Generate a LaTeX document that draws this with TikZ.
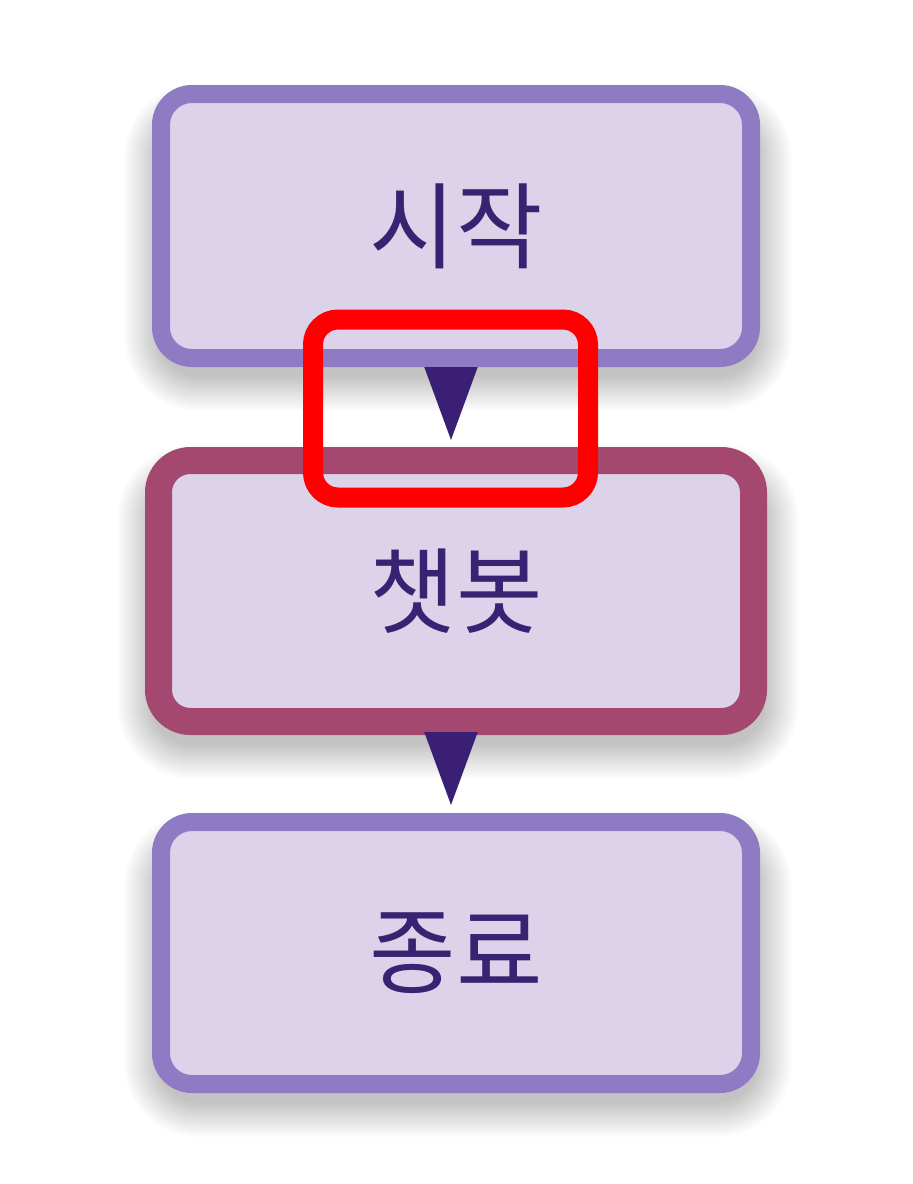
\documentclass[tikz,border=0pt]{standalone}
\usepackage{fontspec}
\newfontfamily\kr{Noto Sans CJK KR}
\usetikzlibrary{arrows.meta,backgrounds}
\definecolor{boxfill}{HTML}{DCD3EA}
\definecolor{boxline}{HTML}{8E7BC4}
\definecolor{hotline}{HTML}{A5486F}
\definecolor{txt}{HTML}{3A2272}
\definecolor{tip}{HTML}{3A1F75}
\tikzset{
  stepbox/.style={draw=boxline, fill=boxfill, line width=9pt, rounded corners=15.5pt,
    minimum width=295pt, minimum height=132pt, inner sep=0pt,
    font=\kr\fontsize{47pt}{56pt}\selectfont, text=txt},
  hotbox/.style={stepbox, draw=hotline, line width=13.5pt, rounded corners=16pt,
    minimum width=297.5pt, minimum height=130.5pt},
  flow/.style={tip, line width=1pt, -{Triangle[width=26.5pt,length=36.5pt]}},
  mark box/.style={draw=red, line width=10pt, rounded corners=12.5pt,
    minimum width=137.5pt, minimum height=89pt, inner sep=0pt},
  softshade/.style={fill=black, opacity=0.016}
}
\begin{document}
\begin{tikzpicture}[x=0.5pt,y=-0.5pt]
\useasboundingbox (0,0) rectangle (912,1184);
\node[stepbox] (b1) at (456,226) {시작};
\node[hotbox]  (b2) at (456,591) {챗봇};
\node[stepbox, minimum height=131pt] (b3) at (456,953) {종료};
\draw[flow, shorten >=3.5pt] ([xshift=-2.5pt]b1.south) -- ([xshift=-2.5pt]b2.north);
\draw[flow, shorten >=4pt] ([xshift=-2.5pt]b2.south) -- ([xshift=-2.5pt]b3.north);
\node[mark box] (hl) at (450.5,408.5) {};
\begin{scope}[on background layer]
  \fill[white] (0,0) rectangle (912,1184);
  \foreach \n in {b1,b2,b3}{
    \foreach \r in {0,1.2,...,16.8}{
      \fill[softshade, rounded corners=20pt+\r pt]
        ([xshift=-\r pt+3pt, yshift=\r pt-16pt]\n.north west) rectangle
        ([xshift=\r pt-1pt, yshift=-\r pt-5pt]\n.south east);
    }
  }
\end{scope}
\end{tikzpicture}
\end{document}
